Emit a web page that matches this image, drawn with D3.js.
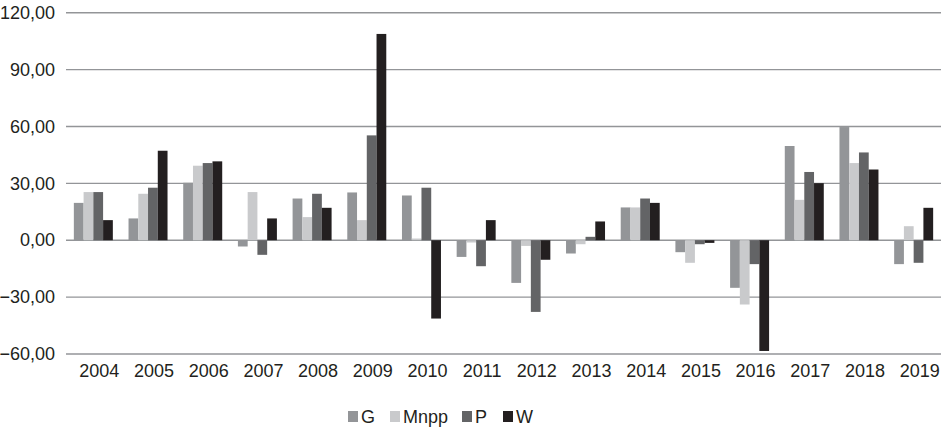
<!DOCTYPE html>
<html><head><meta charset="utf-8">
<script src="https://cdn.jsdelivr.net/npm/d3@7"></script>
<style>
html,body{margin:0;padding:0;background:#fff;}
svg{display:block;}
text{font-family:"Liberation Sans Narrow","Arial Narrow","Liberation Sans",sans-serif;fill:#231f20;}
</style></head>
<body><svg id="c" width="942" height="428"></svg>
<script>
const years = ["2004","2005","2006","2007","2008","2009","2010","2011","2012","2013","2014","2015","2016","2017","2018","2019"];
const seriesNames = ["G","Mnpp","P","W"];
const G    = [19.7, 11.5, 30.3, -3.3, 22.0, 25.2, 23.6, -8.8, -22.5, -7.0, 17.3, -6.3, -25.1, 49.7, 59.7, -12.6];
const Mnpp = [25.4, 24.5, 39.3, 25.4, 12.2, 10.6, 0.9, -1.2, -3.0, -2.1, 17.3, -11.9, -33.9, 21.3, 40.7, 7.4];
const P    = [25.4, 27.7, 40.7, -7.7, 24.5, 55.3, 27.7, -13.7, -37.8, 1.8, 22.0, -2.1, -12.6, 36.0, 46.3, -11.9];
const W    = [10.6, 47.2, 41.6, 11.5, 17.1, 108.8, -41.3, 10.6, -10.3, 9.9, 19.7, -1.4, -58.4, 30.1, 37.3, 17.1];
const yTicks = [-60, -30, 0, 30, 60, 90, 120];
const colors = ["#939598", "#c9cacc", "#636466", "#231f20"];

const data = [G, Mnpp, P, W];
const svg = d3.select("#c");
const mLeft = 66, mRight = 941, mTop = 12.7, mBottom = 354;

const y = d3.scaleLinear().domain([-60, 120]).range([mBottom, mTop]);
const x = d3.scaleBand().domain(years).range([mLeft, mRight]).paddingInner(0.287).paddingOuter(0.1435);
const xs = d3.scaleBand().domain(seriesNames).range([0, x.bandwidth()]);

const fmt = v => (v < 0 ? "\u2212" : "") + Math.abs(v).toFixed(2).replace(".", ",");

// gridlines
svg.append("g").selectAll("line").data(yTicks).join("line")
  .attr("x1", mLeft).attr("x2", mRight)
  .attr("y1", d => y(d)).attr("y2", d => y(d))
  .attr("stroke", "#939598").attr("stroke-width", 1.4);

// y labels
const yAxis = d3.axisLeft(y).tickValues(yTicks).tickFormat(fmt).tickSize(0).tickPadding(0);
const ya = svg.append("g").attr("transform", `translate(${mLeft - 11},0)`).call(yAxis);
ya.select(".domain").remove();
ya.selectAll("text").attr("font-size", 18).attr("fill", "#231f20")
  .style("font-family", '"Liberation Sans Narrow","Liberation Sans",sans-serif');

// bars
const groups = svg.append("g").selectAll("g").data(years).join("g")
  .attr("transform", d => `translate(${x(d)},0)`);
groups.selectAll("rect").data((yr, i) => seriesNames.map((s, k) => ({s, k, v: data[k][i]}))).join("rect")
  .attr("x", d => xs(d.s))
  .attr("width", xs.bandwidth())
  .attr("y", d => y(Math.max(0, d.v)))
  .attr("height", d => Math.abs(y(d.v) - y(0)))
  .attr("fill", d => colors[d.k]);

// x labels
const xAxis = d3.axisBottom(x).tickSize(0).tickPadding(0);
const xa = svg.append("g").attr("transform", `translate(6,${mBottom + 10})`).call(xAxis);
xa.select(".domain").remove();
xa.selectAll("text").attr("font-size", 18).attr("fill", "#231f20").attr("dy", "0.71em")
  .style("font-family", '"Liberation Sans Narrow","Liberation Sans",sans-serif');

// legend
const legX = [348, 390, 462, 503];
const leg = svg.append("g").selectAll("g").data(seriesNames).join("g")
  .attr("transform", (d, i) => `translate(${legX[i]},411)`);
leg.append("rect").attr("width", 10).attr("height", 11).attr("fill", (d, i) => colors[i]);
leg.append("text").attr("x", 13).attr("y", 11.5).attr("font-size", 18).text(d => d);
</script></body></html>
